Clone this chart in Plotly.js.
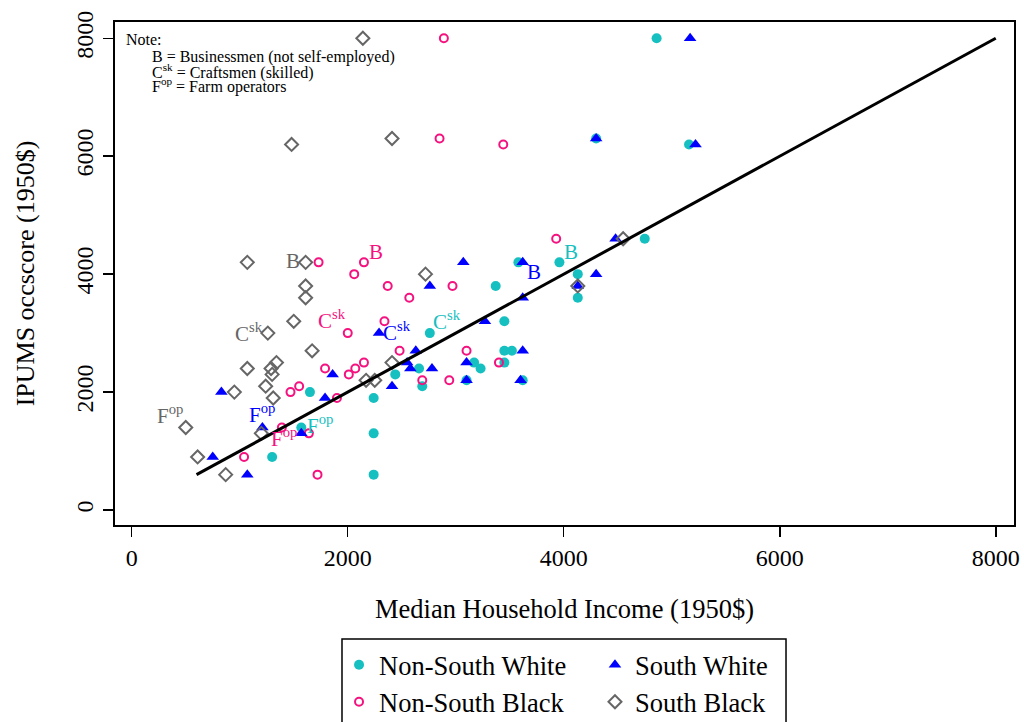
<!DOCTYPE html>
<html>
<head>
<meta charset="utf-8">
<script src="https://cdn.plot.ly/plotly-3.0.1.min.js"></script>
<style>html,body{margin:0;padding:0;background:#fff;}#chart{width:1024px;height:722px;}</style>
</head>
<body>
<div id="chart"></div>
<script>
// ---- Data ----
const nswX = [4860,4300,5160,4750,3580,3960,4130,3370,4130,3450,2760,3450,3520,3170,3450,2660,3230,2440,3100,3620,2690,1650,2240,1570,2240,1300,2240];
const nswY = [8000,6300,6200,4600,4200,4200,4000,3800,3600,3200,3000,2700,2700,2500,2500,2400,2400,2300,2200,2200,2100,2000,1900,1400,1300,900,600];

const nsbX = [2890,2850,3440,3930,1730,2150,2060,2370,2970,2570,2340,2000,2480,3100,2150,3400,1790,2070,2010,2690,2940,1470,1550,1900,1390,1640,1040,1720];
const nsbY = [8000,6300,6200,4600,4200,4200,4000,3800,3800,3600,3200,3000,2700,2700,2500,2500,2400,2400,2300,2200,2200,2000,2100,1900,1400,1300,900,600];

const swX = [5170,4300,5220,4480,3070,3620,4300,2760,4130,3620,3270,2290,2630,3620,2550,3100,2580,2780,1860,2410,3100,3600,830,1790,1210,1570,750,1070];
const swY = [8000,6300,6200,4600,4200,4200,4000,3800,3800,3600,3200,3000,2700,2700,2500,2500,2400,2400,2300,2100,2200,2200,2000,1900,1400,1300,900,600];

const sbX = [2140,1480,2410,4550,1070,1610,2720,1610,1610,4130,1500,1260,1670,1070,1340,1290,1300,2410,2170,2250,1240,950,1310,500,1200,610,870];
const sbY = [8000,6200,6300,4600,4200,4200,4000,3800,3600,3800,3200,3000,2700,2400,2500,2400,2300,2500,2200,2200,2100,2000,1900,1400,1300,900,600];

const fitX = [600, 8000];
const fitY = [600, 8000];

const seriesNames = ['Non-South White','Non-South Black','South White','South Black'];
const xTicks = [0,2000,4000,6000,8000];
const yTicks = [0,2000,4000,6000,8000];

// Marker labels: text, series, and the data point they label
const labelText   = ['B','B','B','B','C<sup>sk</sup>','C<sup>sk</sup>','C<sup>sk</sup>','C<sup>sk</sup>','F<sup>op</sup>','F<sup>op</sup>','F<sup>op</sup>','F<sup>op</sup>'];
const labelSeries = [3,1,0,2, 3,1,2,0, 3,2,0,1];
const labelPtX    = [1610,2150,3960,3620, 1260,2000,2290,2760, 500,1210,1570,1390];
const labelPtY    = [4200,4200,4200,4200, 3000,3000,3000,3000, 1400,1400,1400,1400];

const noteLines = ['Note:', 'B = Businessmen (not self-employed)', 'C<sup>sk</sup> = Craftsmen (skilled)', 'F<sup>op</sup> = Farm operators'];

// ---- Styling ----
const colors = ['#16C0C0', '#F5127F', '#0000FF', '#666666'];
const FONT = 'Liberation Serif, Times New Roman, serif';
const labelShift = [[-13,1],[12,10],[12,10],[11,-10],[-19,1],[-16,14],[18,2],[17,13],[-16,13],[0,14],[19,3],[2,-10]];

const traces = [
  {x: nswX, y: nswY, type:'scatter', mode:'markers', name: seriesNames[0], legend:'legend',
   marker:{symbol:'circle', size:10, color:colors[0]}},
  {x: nsbX, y: nsbY, type:'scatter', mode:'markers', name: seriesNames[1], legend:'legend2',
   marker:{symbol:'circle-open', size:8, color:colors[1], line:{width:2, color:colors[1]}}},
  {x: swX, y: swY, type:'scatter', mode:'markers', name: seriesNames[2], legend:'legend3',
   marker:{symbol:'triangle-up', size:11, color:colors[2]}},
  {x: sbX, y: sbY, type:'scatter', mode:'markers', name: seriesNames[3], legend:'legend4',
   marker:{symbol:'diamond-open', size:10, color:colors[3], line:{width:2, color:colors[3]}}},
  {x: fitX, y: fitY, type:'scatter', mode:'lines', showlegend:false, hoverinfo:'skip',
   line:{color:'#000', width:3}}
];

const annotations = [];
labelText.forEach((t, i) => {
  annotations.push({x: labelPtX[i], y: labelPtY[i], xref:'x', yref:'y', text: t, showarrow:false,
    xshift: labelShift[i][0], yshift: labelShift[i][1], xanchor:'center', yanchor:'middle',
    font:{family:FONT, size:21, color:colors[labelSeries[i]]}});
});
const noteX = [0.010, 0.0389, 0.0389, 0.0389];
const noteY = [0.9662, 0.9304, 0.9016, 0.8738];
noteLines.forEach((t, i) => {
  annotations.push({x: noteX[i], y: noteY[i], xref:'paper', yref:'paper', text: t, showarrow:false,
    xanchor:'left', yanchor:'middle', align:'left', font:{family:FONT, size:16, color:'#000'}});
});

const legendBase = {orientation:'v', xanchor:'left', yanchor:'middle', bgcolor:'rgba(0,0,0,0)',
  borderwidth:0, font:{family:FONT, size:26.5, color:'#000'}};
const colLeft = [0.2492, 0.5339];
const rowMid = [-0.2783, -0.3519];

const layout = {
  width:1024, height:722,
  margin:{l:115, r:10, t:22, b:197, pad:0, autoexpand:false},
  paper_bgcolor:'#fff', plot_bgcolor:'#fff',
  font:{family:FONT, color:'#000'},
  showlegend:true,
  xaxis:{range:[-155, 8169], tickvals:xTicks, ticktext:xTicks.map(String), ticks:'outside', ticklen:10, tickwidth:1.5,
    tickcolor:'#000', showline:true, mirror:true, linewidth:2, linecolor:'#000', showgrid:false, zeroline:false,
    tickfont:{family:FONT, size:24, color:'#000'},
    title:{text:'Median Household Income (1950$)', font:{family:FONT, size:26.5, color:'#000'}, standoff:30}},
  yaxis:{range:[-254, 8276], tickvals:yTicks, ticktext:yTicks.map(String), tickangle:-90, ticks:'outside', ticklen:10, tickwidth:1.5,
    tickcolor:'#000', showline:true, mirror:true, linewidth:2, linecolor:'#000', showgrid:false, zeroline:false,
    tickfont:{family:FONT, size:24, color:'#000'},
    title:{text:'IPUMS occscore (1950$)', font:{family:FONT, size:26, color:'#000'}, standoff:30}},
  legend:  Object.assign({}, legendBase, {x: colLeft[0], y: rowMid[0]}),
  legend2: Object.assign({}, legendBase, {x: colLeft[0], y: rowMid[1]}),
  legend3: Object.assign({}, legendBase, {x: colLeft[1], y: rowMid[0]}),
  legend4: Object.assign({}, legendBase, {x: colLeft[1], y: rowMid[1]}),
  shapes:[{type:'rect', xref:'paper', yref:'paper', x0:0.2525, x1:0.7464, y0:-0.2266, y1:-0.4274,
    line:{color:'#000', width:1.5}, fillcolor:'rgba(0,0,0,0)'}],
  annotations: annotations
};

Plotly.newPlot('chart', traces, layout, {displayModeBar:false, staticPlot:true});
</script>
</body>
</html>
